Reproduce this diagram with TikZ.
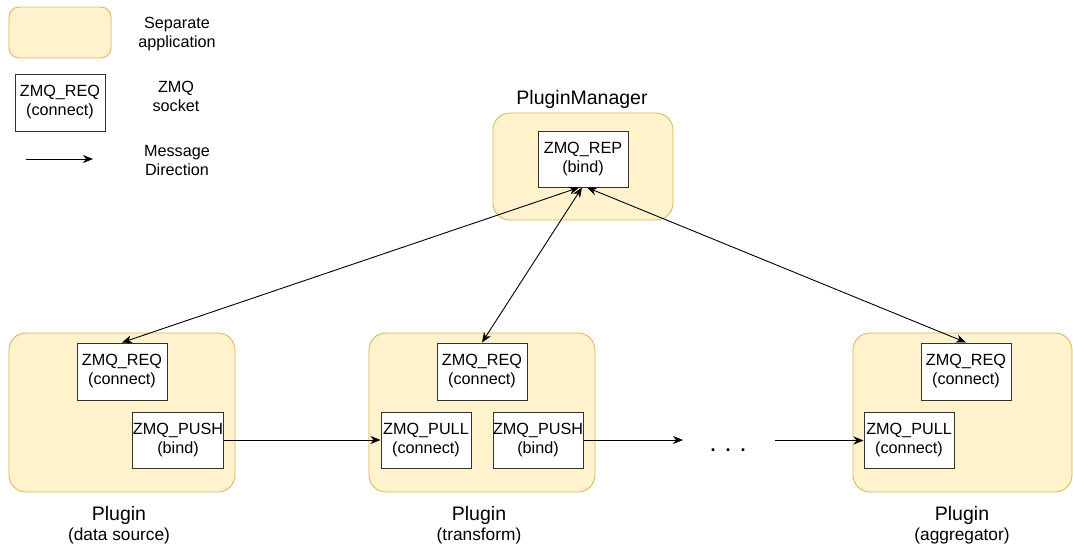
\documentclass[tikz,border=0pt]{standalone}
\usepackage{fontspec}
\setmainfont{Liberation Sans}
\usetikzlibrary{arrows.meta}
\definecolor{appfill}{HTML}{FFF2CC}
\definecolor{appline}{HTML}{D6B656}
\newcommand\boxfont{\fontsize{16.2}{19}\selectfont}
\newcommand\titlefont{\fontsize{19.5}{22}\selectfont}
\newcommand\subfont{\fontsize{17.3}{19}\selectfont}
\begin{document}
\begin{tikzpicture}[x=1pt,y=-1pt,
  app/.style={draw=appline, fill=appfill, rounded corners=17pt, line width=0.8pt, inner sep=0pt},
  sock/.style={draw=black!80, fill=white, line width=1pt, minimum width=90pt, minimum height=56pt, align=center, inner sep=0pt, font=\boxfont},
  lbl/.style={align=center, inner sep=0pt, font=\boxfont},
  title/.style={inner sep=0pt, font=\titlefont},
  sub/.style={inner sep=0pt, font=\subfont},
  msg/.style={-{Stealth[length=10pt,width=8pt,inset=3pt]}, line width=0.9pt},
  bimsg/.style={{Stealth[length=10pt,width=8pt,inset=3pt]}-{Stealth[length=10pt,width=8pt,inset=3pt]}, line width=0.9pt}]
\useasboundingbox (0,0) rectangle (1073,547);

% legend
\node[app, rounded corners=10pt, minimum width=102pt, minimum height=51pt] (legapp) at (60,32.5) {};
\node[sock, minimum height=57pt] (legsock) at (60,102.5) {ZMQ\_REQ\\(connect)};
\node[lbl] (lega) at (177,34) {Separate\\application};
\node[lbl] (legb) at (176,96) {ZMQ\\socket};
\node[lbl] (legc) at (177,160) {Message\\Direction};
\coordinate (la) at (26,159);
\coordinate (lb) at (93,159);
\draw[msg] (la) -- (lb);

% plugin manager
\node[app, minimum width=180pt, minimum height=107pt] (pm) at (583,166.5) {};
\node[title] (pmt) at (582,99) {PluginManager};
\node[sock] (rep) at (583,159) {ZMQ\_REP\\(bind)};

% plugin 1
\node[app, minimum width=226pt, minimum height=159pt] (p1) at (122,412.5) {};
\node[sock, minimum height=57pt] (req1) at (122,371.5) {ZMQ\_REQ\\(connect)};
\node[sock] (push1) at (178,440) {ZMQ\_PUSH\\(bind)};
\node[title] (p1t) at (119,515) {Plugin};
\node[sub] (p1s) at (119,536) {(data source)};

% plugin 2
\node[app, minimum width=226pt, minimum height=159pt] (p2) at (482,412.5) {};
\node[sock, minimum height=57pt] (req2) at (482,371.5) {ZMQ\_REQ\\(connect)};
\node[sock] (pull2) at (426,440) {ZMQ\_PULL\\(connect)};
\node[sock] (push2) at (538,440) {ZMQ\_PUSH\\(bind)};
\node[title] (p2t) at (479,515) {Plugin};
\node[sub] (p2s) at (479,536) {(transform)};

% plugin 3
\node[app, minimum width=219pt, minimum height=159pt] (p3) at (962.5,412.5) {};
\node[sock, minimum height=57pt] (req3) at (966,371.5) {ZMQ\_REQ\\(connect)};
\node[sock] (pull3) at (909,440.5) {ZMQ\_PULL\\(connect)};
\node[title] (p3t) at (962,515) {Plugin};
\node[sub] (p3s) at (962,536) {(aggregator)};

% dots
\node[inner sep=0pt, font=\fontsize{18}{20}\selectfont\bfseries, anchor=base] (dots) at (728,451) {.\hspace{10pt}.\hspace{10pt}.};

% connectors
\draw[msg] (push1.east) -- (pull2.west);
\coordinate (o2) at (683,440);
\draw[msg] (push2.east) -- (o2);
\coordinate (i3) at (775,440.5);
\draw[msg] (i3) -- (pull3.west);
\draw[bimsg] ([xshift=-4pt]rep.south) -- (req1.north);
\draw[bimsg] ([xshift=-1pt]rep.south) -- (req2.north);
\draw[bimsg] ([xshift=4pt]rep.south) -- (req3.north);
\end{tikzpicture}
\end{document}
